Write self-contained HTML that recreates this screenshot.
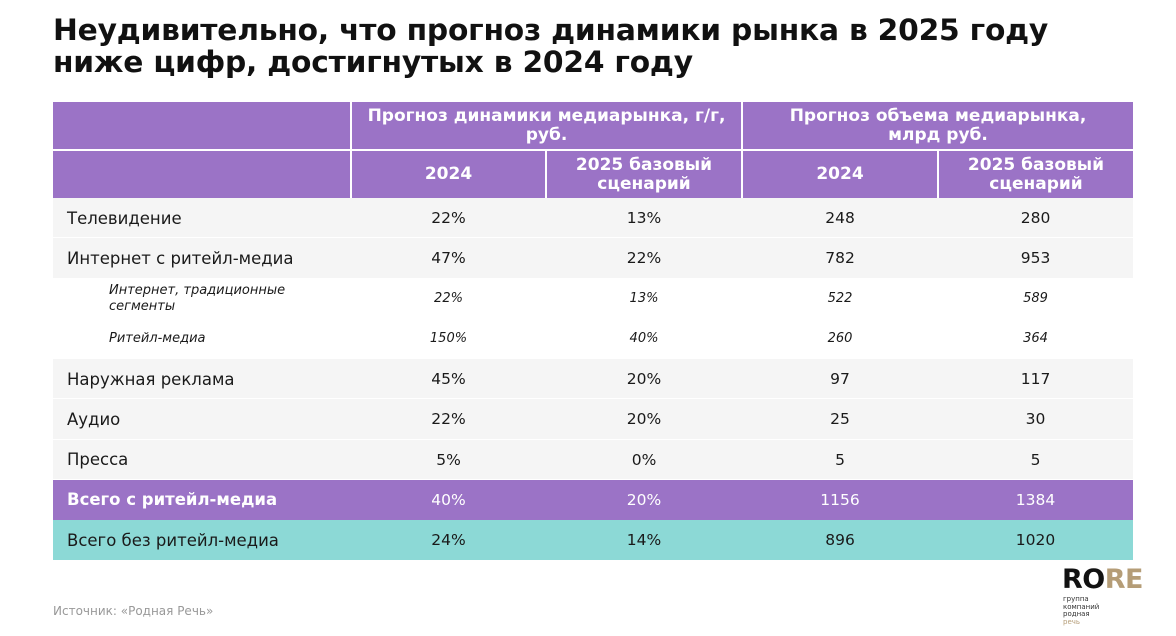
<!DOCTYPE html>
<html><head><meta charset="utf-8"><style>
body{margin:0;width:1176px;height:636px;background:#fff;font-family:"DejaVu Sans","Liberation Sans",sans-serif;position:relative;overflow:hidden;color:#1a1a1a}
h1{position:absolute;left:53px;top:15px;margin:0;font-size:29.7px;line-height:32px;font-weight:bold;color:#111;letter-spacing:-0.2px}
table{position:absolute;left:53px;top:102px;border-collapse:collapse;table-layout:fixed;width:1080px}
td{padding:0;text-align:center;font-size:15.5px;height:40.25px;box-sizing:border-box}
.h td{background:#9b73c6;color:#fff;font-weight:bold;font-size:17px;height:48px;line-height:19px;border-left:2px solid #fff;border-right:2px solid #fff}
.h1 td{border-bottom:2px solid #fff}
.h td:first-child{border-left:none}
.h td:last-child{border-right:none}
.g td{background:#f5f5f5;box-shadow:inset 0 -1px 0 #fff}
.g td.l,.tt td.l,.tp td.l{font-size:16.5px}
.l{text-align:left;padding-left:14px}
.i td{font-style:italic;font-size:13px;background:#fff}
.i td.l{padding-left:56px;line-height:16px}
.tp td{background:#9b73c6;color:#fff}
.tp td.l{font-weight:bold}
.tt td{background:#8cd9d6}
</style></head><body>
<h1>Неудивительно, что прогноз динамики рынка в 2025 году<br>ниже цифр, достигнутых в 2024 году</h1>
<table>
<colgroup><col style="width:298px"><col style="width:195px"><col style="width:196px"><col style="width:196px"><col style="width:195px"></colgroup>
<tr class="h h1"><td></td><td colspan="2">Прогноз динамики медиарынка, г/г,<br>руб.</td><td colspan="2">Прогноз объема медиарынка,<br>млрд руб.</td></tr>
<tr class="h"><td></td><td>2024</td><td>2025 базовый<br>сценарий</td><td>2024</td><td>2025 базовый<br>сценарий</td></tr>
<tr class="g"><td class="l">Телевидение</td><td>22%</td><td>13%</td><td>248</td><td>280</td></tr>
<tr class="g"><td class="l">Интернет с ритейл-медиа</td><td>47%</td><td>22%</td><td>782</td><td>953</td></tr>
<tr class="i"><td class="l">Интернет, традиционные<br>сегменты</td><td>22%</td><td>13%</td><td>522</td><td>589</td></tr>
<tr class="i"><td class="l">Ритейл-медиа</td><td>150%</td><td>40%</td><td>260</td><td>364</td></tr>
<tr class="g"><td class="l">Наружная реклама</td><td>45%</td><td>20%</td><td>97</td><td>117</td></tr>
<tr class="g"><td class="l">Аудио</td><td>22%</td><td>20%</td><td>25</td><td>30</td></tr>
<tr class="g"><td class="l">Пресса</td><td>5%</td><td>0%</td><td>5</td><td>5</td></tr>
<tr class="tp"><td class="l">Всего с ритейл-медиа</td><td>40%</td><td>20%</td><td>1156</td><td>1384</td></tr>
<tr class="tt"><td class="l">Всего без ритейл-медиа</td><td>24%</td><td>14%</td><td>896</td><td>1020</td></tr>
</table>
<div style="position:absolute;left:53px;top:604px;font-size:12px;color:#999">Источник: «Родная Речь»</div>
<div style="position:absolute;left:1062px;top:566px;font-size:27px;font-weight:bold;letter-spacing:-0.5px;line-height:28px"><span style="color:#111">RO</span><span style="color:#b59d77">RE</span></div>
<div style="position:absolute;left:1063px;top:596px;font-size:7px;line-height:7.5px;color:#333">группа<br>компаний<br>родная<br><span style="color:#b59d77">речь</span></div>
</body></html>
